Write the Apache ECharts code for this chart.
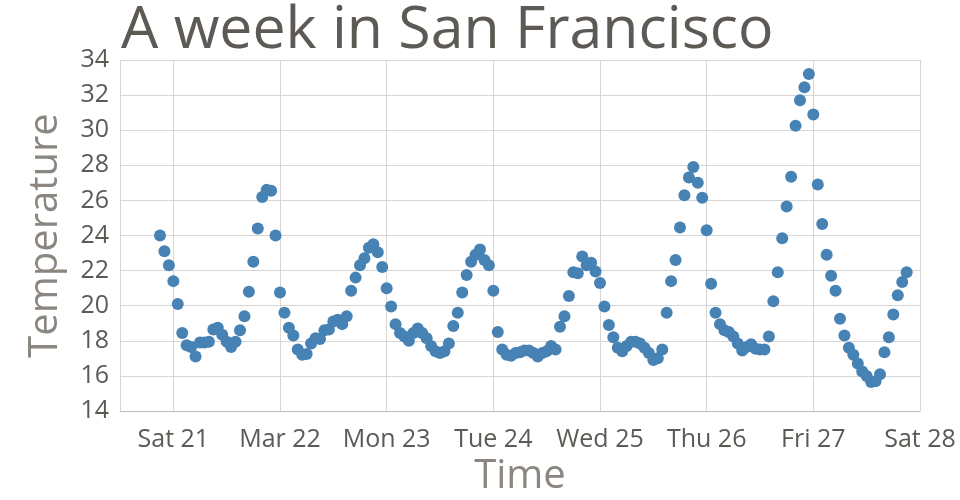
<!DOCTYPE html>
<html>
<head>
<meta charset="utf-8">
<script src="https://cdn.jsdelivr.net/npm/echarts@6/dist/echarts.min.js"></script>
<style>html,body{margin:0;padding:0;background:#fff}#c{width:960px;height:500px}</style>
</head>
<body>
<div id="c"></div>
<script>
// Hourly readings starting Fri 20 Mar 2015 21:00 (local time)
var startYear = 2015, startMonth = 2, startDay = 20, startHour = 21;
var temperatures = [
  24.0, 23.1, 22.3, 21.4, 20.1, 18.45, 17.75, 17.65, 17.1, 17.9, 17.9, 17.95,
  18.65, 18.75, 18.35, 17.95, 17.65, 17.95, 18.6, 19.4, 20.8, 22.5, 24.4, 26.2,
  26.6, 26.55, 24.0, 20.75, 19.6, 18.75, 18.3, 17.5, 17.2, 17.25, 17.85, 18.15,
  18.1, 18.6, 18.65, 19.1, 19.2, 18.95, 19.4, 20.85, 21.6, 22.3, 22.7, 23.3,
  23.5, 23.05, 22.2, 21.0, 19.95, 18.95, 18.45, 18.25, 18.0, 18.45, 18.7, 18.45,
  18.15, 17.7, 17.4, 17.3, 17.4, 17.85, 18.85, 19.6, 20.75, 21.75, 22.5, 22.9,
  23.2, 22.6, 22.3, 20.85, 18.5, 17.5, 17.2, 17.15, 17.3, 17.35, 17.45, 17.45,
  17.3, 17.1, 17.3, 17.4, 17.7, 17.5, 18.8, 19.4, 20.55, 21.9, 21.85, 22.8,
  22.3, 22.45, 21.95, 21.3, 19.95, 18.9, 18.2, 17.6, 17.4, 17.7, 17.95, 17.95,
  17.85, 17.6, 17.3, 16.9, 17.0, 17.5, 19.6, 21.4, 22.6, 24.45, 26.3, 27.3,
  27.9, 27.0, 26.15, 24.3, 21.25, 19.6, 18.95, 18.6, 18.5, 18.25, 17.85, 17.45,
  17.65, 17.8, 17.55, 17.5, 17.5, 18.25, 20.25, 21.9, 23.85, 25.65, 27.35, 30.25,
  31.7, 32.45, 33.2, 30.9, 26.9, 24.65, 22.9, 21.7, 20.85, 19.25, 18.3, 17.6,
  17.2, 16.7, 16.25, 16.0, 15.65, 15.7, 16.1, 17.35, 18.2, 19.5, 20.6, 21.35,
  21.9
];
var weekdayNames = ['Sun', 'Mon', 'Tue', 'Wed', 'Thu', 'Fri', 'Sat'];
var monthNames = ['Jan','Feb','Mar','Apr','May','Jun','Jul','Aug','Sep','Oct','Nov','Dec'];
var yTicks = { min: 14, max: 34, step: 2 };

var points = temperatures.map(function (t, i) {
  return [new Date(startYear, startMonth, startDay, startHour + i).getTime(), t];
});

var chart = echarts.init(document.getElementById('c'), null, { renderer: 'canvas', width: 960, height: 500 });
var FONT = '"Open Sans", sans-serif';
chart.setOption({
  animation: false,
  title: {
    text: 'A week in San Francisco',
    left: 116, top: -3,
    textStyle: { fontFamily: FONT, fontSize: 59, fontWeight: 'normal', color: '#5d5955' }
  },
  grid: { left: 120, right: 40, top: 60, bottom: 89, containLabel: false, outerBoundsMode: 'none' },
  xAxis: {
    type: 'time',
    min: new Date(2015, 2, 20, 12).getTime(),
    max: new Date(2015, 2, 28, 0).getTime(),
    minInterval: 86400000, maxInterval: 86400000,
    name: 'Time', nameLocation: 'middle', nameGap: 33,
    nameTextStyle: { fontFamily: FONT, fontSize: 40, color: '#8b8680', verticalAlign: 'top' },
    axisLine: { show: true, lineStyle: { color: '#bdbdbd', width: 1 } },
    axisTick: { show: false },
    splitLine: { show: true, lineStyle: { color: '#d6d6d6', width: 1 } },
    axisLabel: {
      fontFamily: FONT, fontSize: 25, color: '#5d5955', margin: 16,
      showMinLabel: false, showMaxLabel: true, hideOverlap: false,
      formatter: function (v) {
        var d = new Date(v);
        if (d.getDay() === 0) return monthNames[d.getMonth()] + ' ' + d.getDate();
        return weekdayNames[d.getDay()] + ' ' + d.getDate();
      }
    }
  },
  yAxis: {
    type: 'value', min: yTicks.min, max: yTicks.max, interval: yTicks.step,
    name: 'Temperature', nameLocation: 'middle', nameGap: 54, nameRotate: 90,
    nameTextStyle: { fontFamily: FONT, fontSize: 40, color: '#8b8680' },
    axisLine: { show: false }, axisTick: { show: false },
    splitLine: { show: true, lineStyle: { color: '#d6d6d6', width: 1 } },
    axisLabel: { fontFamily: FONT, fontSize: 25, color: '#5d5955', margin: 11 }
  },
  series: [{
    type: 'scatter', data: points, symbolSize: 12,
    itemStyle: { color: '#4682b4', opacity: 1 }
  }]
});
</script>
</body>
</html>
